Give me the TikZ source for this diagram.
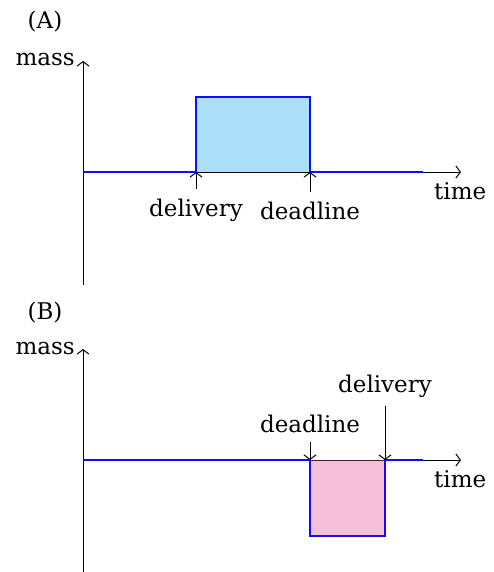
\documentclass[tikz,border=0pt]{standalone}
\usepackage{fontspec}
\setmainfont{DejaVu Serif}
\usetikzlibrary{arrows.meta}
\definecolor{boxblue}{rgb}{0.06,0.643,0.91}
\definecolor{boxpink}{rgb}{0.89,0.283,0.574}
\definecolor{curve}{rgb}{0.05,0.05,1}
\tikzset{
  axis/.style={line width=1pt,-{Straight Barb[length=4.5pt,width=12pt,line width=1pt]}},
  marker/.style={line width=1pt,-{Straight Barb[length=4.5pt,width=12pt,line width=1pt]}},
  signal/.style={curve,line width=2.6pt,line join=miter},
  lbl/.style={font=\fontsize{23}{27}\selectfont,inner sep=0pt,anchor=base},
}
\begin{document}
\begin{tikzpicture}[x=1pt,y=-1pt]
\useasboundingbox (0,0) rectangle (493,572);

% ---- (A): early delivery ----
\node[lbl] (titleA) at (45,29) {(A)};
\node[lbl,anchor=base east] (massA) at (75,66) {mass};
\coordinate (oA) at (83,172);
\coordinate (yA) at (83,61);
\coordinate (ylowA) at (83,285);
\coordinate (xA) at (461,172);
\coordinate (delA) at (196,172);
\coordinate (deaA) at (310,172);
\node[lbl,anchor=base west] (timeA) at (434,199) {time};
\draw[axis] (ylowA) -- (yA);
\draw[axis] (oA) -- (xA);
\fill[boxblue,fill opacity=0.35] (196,97) rectangle (310,172);
\draw[signal] (oA) -- (delA) -- (196,97) -- (310,97) -- (deaA) -- (423,172);
\node[lbl] (delivA) at (196,216) {delivery};
\node[lbl] (deadA) at (310,219) {deadline};
\draw[marker] (196,189) -- (delA);
\draw[marker] (310,192) -- (deaA);

% ---- (B): late delivery ----
\node[lbl] (titleB) at (45,319) {(B)};
\node[lbl,anchor=base east] (massB) at (75,354) {mass};
\coordinate (oB) at (83,460);
\coordinate (yB) at (83,349);
\coordinate (ylowB) at (83,572);
\coordinate (xB) at (461,460);
\coordinate (deaB) at (310,460);
\coordinate (delB) at (385,460);
\node[lbl,anchor=base west] (timeB) at (434,487) {time};
\draw[axis] (ylowB) -- (yB);
\draw[axis] (oB) -- (xB);
\fill[boxpink,fill opacity=0.35] (310,460) rectangle (385,536);
\draw[signal] (oB) -- (deaB) -- (310,536) -- (385,536) -- (delB) -- (423,460);
\node[lbl] (deadB) at (310,432) {deadline};
\node[lbl] (delivB) at (385,392) {delivery};
\draw[marker] (310,442) -- (deaB);
\draw[marker] (385,406) -- (delB);
\end{tikzpicture}
\end{document}
